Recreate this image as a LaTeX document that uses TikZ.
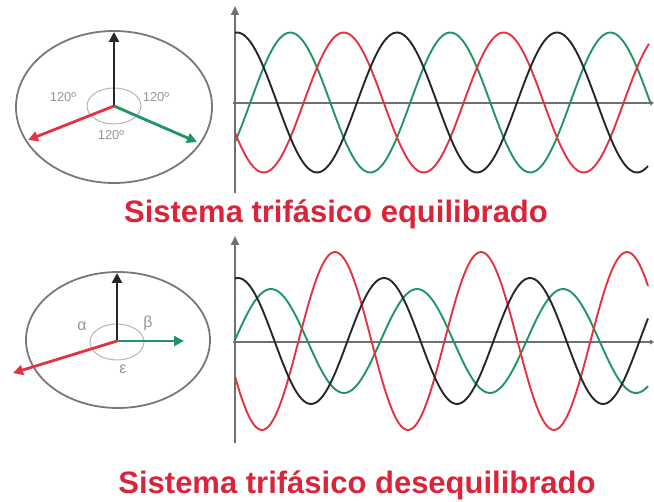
\documentclass[tikz,border=0pt]{standalone}
\usepackage{fontspec}
\setmainfont{Liberation Sans}
\usetikzlibrary{arrows.meta}
\definecolor{phaseR}{RGB}{228,50,66}
\definecolor{phaseS}{RGB}{32,148,98}
\definecolor{phaseT}{RGB}{38,38,38}
\definecolor{axisgray}{RGB}{112,112,112}
\definecolor{ringgray}{RGB}{120,120,120}
\definecolor{labelgray}{RGB}{150,150,150}
\definecolor{titlered}{RGB}{218,36,58}

\begin{document}
\begin{tikzpicture}[x=1pt, y=-1pt,
    ring/.style={draw=ringgray, line width=1.8pt},
    smallring/.style={draw=labelgray!70, line width=1pt},
    phasor/.style={line width=2.8pt, -{Triangle[length=10pt,width=10pt]}},
    wave/.style={line width=1.9pt, smooth},
    axisline/.style={draw=axisgray, line width=1.8pt},
    anglabel/.style={text=labelgray, font=\fontsize{13}{14}\selectfont},
    greeklabel/.style={text=labelgray, font=\fontsize{16}{17}\selectfont},
    caption/.style={text=titlered, inner sep=0pt, anchor=base,
      font=\fontsize{31}{36}\selectfont\bfseries}]
	\useasboundingbox (0,0) rectangle (654,502);
	\def\kA{2.25}     % degrees per px, balanced (period 160)
	\def\kB{2.46575}  % degrees per px, unbalanced (period 146)

	% Balanced system: phasor diagram
	\coordinate (o1) at (114,106);
	\coordinate (t1) at (114,32);
	\coordinate (s1) at (197,142);
	\coordinate (r1) at (28,140);
	\draw[ring] (114,107) ellipse [x radius=98pt, y radius=76pt];
	\draw[smallring] (o1) ellipse [x radius=27pt, y radius=18pt];
	\draw[phasor, phaseT] (o1) -- (t1);
	\draw[phasor, phaseS] (o1) -- (s1);
	\draw[phasor, phaseR] (o1) -- (r1);
	\node[anglabel] (a1) at (63,97) {120º};
	\node[anglabel] (b1) at (156,97) {120º};
	\node[anglabel] (c1) at (111,135) {120º};

	% Balanced system: waveforms
	\draw[axisline, -{Triangle[length=9pt,width=8pt]}] (235,193) -- (235,6);
	\draw[axisline, -{Triangle[length=4pt,width=5pt]}] (233,103) -- (654,103);
	\draw[wave, phaseS] plot[domain=235:650, samples=160] (\x, {102.5-70*cos(\kA*(\x-290.3))});
	\draw[wave, phaseR] plot[domain=235:649, samples=160] (\x, {102.5-70*cos(\kA*(\x-343.7))});
	\draw[wave, phaseT] plot[domain=235:648, samples=160] (\x, {102.5-70*cos(\kA*(\x-237))});

	\node[caption] (capTop) at (336,223) {Sistema trifásico equilibrado};

	% Unbalanced system: phasor diagram
	\coordinate (o2) at (117,341);
	\coordinate (t2) at (117,273);
	\coordinate (s2) at (184,341);
	\coordinate (r2) at (13,373);
	\draw[ring] (118,340) ellipse [x radius=92pt, y radius=68pt];
	\draw[smallring] (117,342) ellipse [x radius=27pt, y radius=18pt];
	\draw[phasor, phaseT] (o2) -- (t2);
	\draw[phasor, phaseS] (o2) -- (s2);
	\draw[phasor, phaseR] (o2) -- (r2);
	\node[greeklabel] (a2) at (82,326) {α};
	\node[greeklabel] (b2) at (148,323) {β};
	\node[greeklabel] (c2) at (123,369) {ε};

	% Unbalanced system: waveforms
	\draw[axisline, -{Triangle[length=9pt,width=8pt]}] (235,443) -- (235,236);
	\draw[axisline, -{Triangle[length=4pt,width=5pt]}] (233,342) -- (654,342);
	\draw[wave, phaseS] plot[domain=235:648, samples=160] (\x, {341-52*cos(\kB*(\x-271))});
	\draw[wave, phaseR] plot[domain=235:648, samples=160] (\x, {341-89*cos(\kB*(\x-335))});
	\draw[wave, phaseT] plot[domain=235:648, samples=160] (\x, {341-63*cos(\kB*(\x-238))});

	\node[caption] (capBot) at (357,494) {Sistema trifásico desequilibrado};
\end{tikzpicture}
\end{document}
